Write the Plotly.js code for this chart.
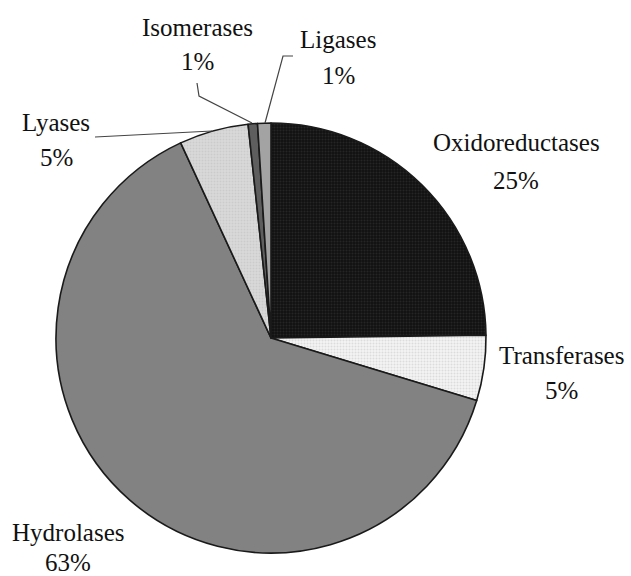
<!DOCTYPE html>
<html>
<head>
<meta charset="utf-8">
<script src="https://cdn.plot.ly/plotly-3.0.1.min.js"></script>
<style>html,body{margin:0;padding:0;background:#fff;}#chart{width:631px;height:576px;}</style>
</head>
<body>
<div id="chart"></div>
<script>
// Data (percent of enzymes by class), clockwise from 12 o'clock
const categories = ["Oxidoreductases", "Transferases", "Hydrolases", "Lyases", "Isomerases", "Ligases"];
const values = [24.8, 4.9, 63.4, 5.2, 0.7, 1.0];

// Styles
const fillColors = ["#111111", "#f4f4f4", "#828282", "#d9d9d9", "#5e5e5e", "#a3a3a3"];
const patternShapes = [".", ".", "", ".", "", ""];
const patternFg = ["#3a3a3a", "#c4c4c4", "#828282", "#bdbdbd", "#5e5e5e", "#a3a3a3"];

const W = 631, H = 576;
const px = x => x / W;
const py = y => 1 - y / H;

const total = values.reduce((a, b) => a + b, 0);
const pctText = values.map(v => Math.round(v / total * 100) + "%");

// label placement (pixel centres of name line and percent line)
const labelPos = [
  {x: 516, y1: 143, y2: 180},
  {x: 561, y1: 355, y2: 390},
  {x: 68,  y1: 532, y2: 562},
  {x: 56,  y1: 122, y2: 157},
  {x: 197, y1: 27,  y2: 62},
  {x: 338, y1: 40,  y2: 75}
];

const font = {family: "Liberation Serif, Times New Roman, serif", size: 25, color: "#111"};
const annotations = [];
categories.forEach((c, i) => {
  const p = labelPos[i];
  annotations.push({text: c, x: px(p.x), y: py(p.y1), xref: "paper", yref: "paper",
    xanchor: "center", yanchor: "middle", showarrow: false, font: font});
  annotations.push({text: pctText[i], x: px(p.x), y: py(p.y2), xref: "paper", yref: "paper",
    xanchor: "center", yanchor: "middle", showarrow: false, font: font});
});

// leader lines
const leaders = [
  [[95, 137], [212, 131]],
  [[197, 83], [199, 96], [252, 123]],
  [[293, 56], [283, 56], [265, 123]]
];
const shapes = leaders.map(pts => ({
  type: "path", xref: "paper", yref: "paper",
  path: pts.map((p, k) => (k ? "L" : "M") + px(p[0]) + "," + py(p[1])).join(" "),
  line: {color: "#444", width: 1.2}
}));

const trace = {
  type: "pie",
  labels: categories,
  values: values,
  sort: false,
  direction: "clockwise",
  rotation: 0,
  textinfo: "none",
  hoverinfo: "label+percent",
  showlegend: false,
  domain: {x: [px(56), px(486)], y: [py(553), py(123)]},
  marker: {
    colors: fillColors,
    line: {color: "#1a1a1a", width: 1.6},
    pattern: {shape: patternShapes, fgcolor: patternFg, fillmode: "overlay", size: 3, solidity: 0.35}
  }
};

const layout = {
  width: W, height: H,
  margin: {l: 0, r: 0, t: 0, b: 0},
  paper_bgcolor: "#ffffff",
  showlegend: false,
  annotations: annotations,
  shapes: shapes
};

Plotly.newPlot("chart", [trace], layout, {displayModeBar: false, staticPlot: true});
</script>
</body>
</html>
